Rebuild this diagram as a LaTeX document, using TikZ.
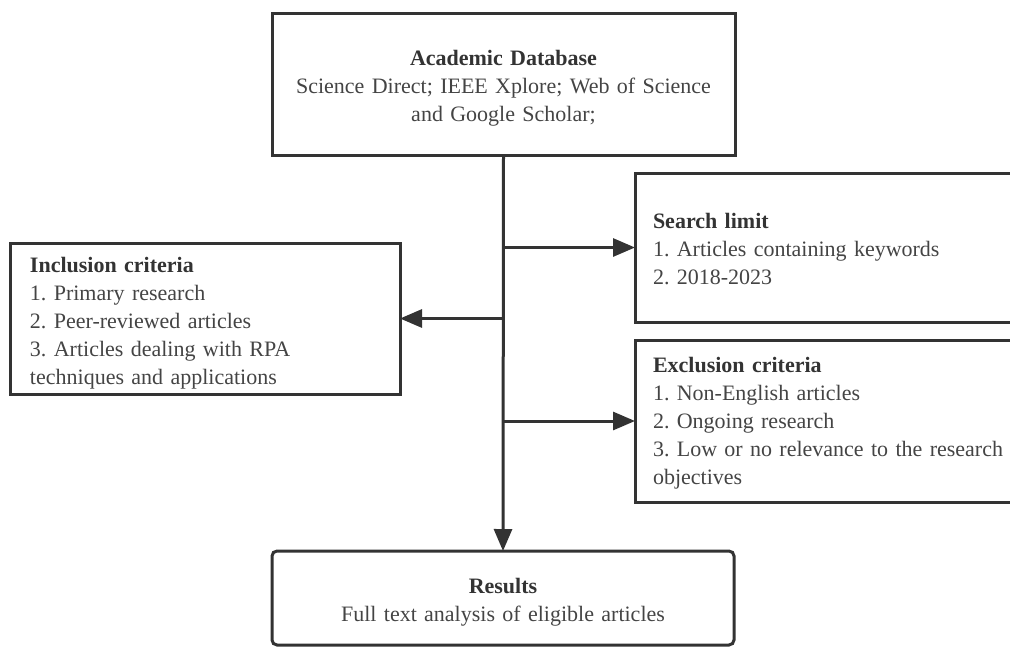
\documentclass[tikz,border=0pt]{standalone}
\usepackage{fontspec}
\setmainfont{Liberation Serif}
\usetikzlibrary{arrows.meta}
\definecolor{linec}{HTML}{333333}
\definecolor{textc}{HTML}{444444}
\definecolor{titlec}{HTML}{333333}
\newcommand{\toprule}[1]{\rule{0pt}{#1pt}}
\begin{document}
\begin{tikzpicture}[x=1pt,y=-1pt,
  every node/.style={font=\fontsize{22}{28}\selectfont\frenchspacing, text=textc},
  box/.style={draw=linec, line width=3pt, inner ysep=0pt, outer sep=0pt},
  lbox/.style={box, align=left, inner xsep=18pt},
  cbox/.style={box, align=center, inner xsep=10pt},
  conn/.style={draw=linec, line width=3pt},
  arr/.style={conn, -{Triangle[length=22pt,width=18pt]}}]
\useasboundingbox (0,0) rectangle (1010,646);
\clip (0,0) rectangle (1010,646);
\node[cbox, text width=443pt, minimum height=142pt] (top) at (503.5,84)
  {\toprule{24}\textbf{\color{titlec}Academic Database}\\Science Direct; IEEE Xplore; Web of Science\\and Google Scholar;};
\node[lbox, text width=380pt, minimum height=149pt] (search) at (843,247.5)
  {\toprule{19}\textbf{\color{titlec}Search limit}\\1. Articles containing keywords\\2. 2018-2023};
\node[lbox, inner xsep=20pt, text width=350pt, minimum height=151pt] (incl) at (205,318.5)
  {\toprule{24}\textbf{\color{titlec}Inclusion criteria}\\1. Primary research\\2. Peer-reviewed articles\\3. Articles dealing with RPA\\techniques and applications};
\node[lbox, text width=380pt, minimum height=162pt] (excl) at (843,421)
  {\toprule{20}\textbf{\color{titlec}Exclusion criteria}\\1. Non-English articles\\2. Ongoing research\\3. Low or no relevance to the research\\objectives};
\node[cbox, rounded corners=5pt, text width=442pt, minimum height=94pt] (res) at (503,598)
  {\toprule{24}\textbf{\color{titlec}Results}\\Full text analysis of eligible articles};
\draw[arr] (top.south) -- (res.north);
\draw[arr] (top.south |- search.west) -- (search.west);
\draw[arr] (top.south |- incl.east) -- (incl.east);
\draw[arr] (top.south |- excl.west) -- (excl.west);
\end{tikzpicture}
\end{document}
